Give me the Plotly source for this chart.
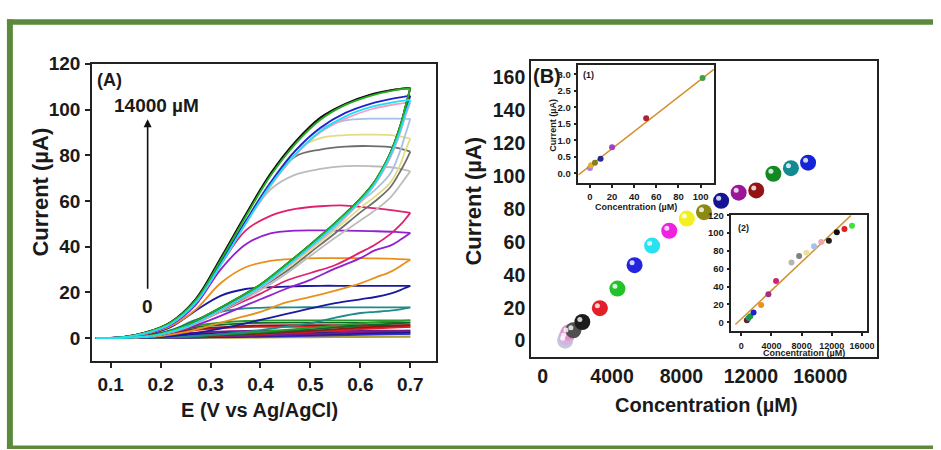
import plotly.graph_objects as go

W, H = 941, 450
def px(x): return x / W
def py(y): return 1 - y / H

# ---------------- Panel A : cyclic voltammograms ----------------
E_up = [0.07, 0.12, 0.17, 0.22, 0.27, 0.32, 0.37, 0.42, 0.47, 0.52, 0.57, 0.62, 0.67, 0.70]
E_dn = [0.70, 0.69, 0.68, 0.66, 0.63, 0.60, 0.55, 0.50, 0.45, 0.40, 0.35, 0.30, 0.25, 0.20, 0.15, 0.07]
E_sm_up = [0.07, 0.17, 0.27, 0.37, 0.50, 0.70]
E_sm_dn = [0.70, 0.60, 0.50, 0.40, 0.30, 0.20, 0.07]

I_black_up = [0, 0.3, 2.5, 7, 17, 35, 54, 72, 86, 96.5, 102.5, 106.5, 108.8, 109.5]
I_black_dn = [109.5, 101, 93, 81, 69, 61, 50.5, 41, 32, 23.5, 17, 11, 5.5, 2, 0.5, 0]
I_red_up = [0, 0.3, 2.5, 7, 17, 34.5, 53.5, 71.5, 85.5, 96, 102.3, 106.3, 108.7, 109.3]
I_red_dn = [109.3, 100.8, 92.8, 80.8, 68.8, 60.8, 50.3, 40.8, 31.8, 23.3, 16.8, 10.8, 5.4, 2, 0.5, 0]
I_green_up = [0, 0.3, 2.4, 6.8, 16.5, 34, 53, 71, 85, 95.5, 102, 106, 108.5, 109.3]
I_green_dn = [109.3, 101, 93, 81, 69, 61, 50.5, 41, 32, 23.5, 17, 11, 5.5, 2, 0.5, 0]
I_blue_up = [0, 0.3, 2.3, 6.5, 16, 33, 51, 68, 82, 92, 98.5, 102.5, 105, 106]
I_blue_dn = [106, 99, 92, 80.5, 68.5, 60.5, 50, 40.5, 31.5, 23, 16.5, 10.5, 5, 1.8, 0.5, 0]
I_cyan_up = [0, 0.3, 2.2, 6.2, 15.5, 32, 50, 67, 80.5, 90.5, 97, 101, 103.3, 104.2]
I_cyan_dn = [104.2, 98, 91, 80, 68, 60, 49.5, 40, 31, 22.5, 16, 10, 4.8, 1.7, 0.4, 0]
I_pink_up = [0, 0.3, 2.2, 6.2, 15.5, 32, 50, 66.5, 80, 90, 96, 100, 102.3, 103]
I_pink_dn = [103, 97, 90, 79, 67.5, 59.5, 49, 39.5, 30.5, 22, 15.8, 9.8, 4.7, 1.6, 0.4, 0]

I_lblue_up = [0, 0.3, 2.3, 6.5, 16, 33, 51, 68, 82, 91.5, 95.3, 96, 96, 95.9]
I_lblue_dn = [95.9, 89, 82, 72, 65, 59.5, 48.5, 39.5, 31, 23, 16.5, 10.5, 5, 1.8, 0.4, 0]
I_yellow_up = [0, 0.3, 2.3, 6.5, 16, 33, 51, 68, 82, 87.5, 88.8, 89, 88.6, 87.3]
I_yellow_dn = [87.3, 82, 76, 68, 62, 57, 47.5, 38.5, 30, 22.5, 16, 10, 4.8, 1.7, 0.4, 0]
I_dgray_up = [0, 0.3, 2.3, 6.5, 16, 33, 51, 68, 79.5, 82.5, 83.8, 84, 83.3, 81.6]
I_dgray_dn = [81.6, 77, 73, 66, 60, 55, 46, 37.5, 29, 22, 15.5, 9.8, 4.6, 1.6, 0.4, 0]
I_lgray_up = [0, 0.3, 2.2, 6.3, 15.5, 32, 50, 65, 71.5, 74, 75.2, 75.2, 74.5, 73]
I_lgray_dn = [73, 70, 67, 61.5, 56, 51.5, 44, 36, 28, 21, 15, 9.5, 4.5, 1.5, 0.4, 0]

I_crimson_up = [0, 0.3, 2.2, 6.3, 15.5, 32, 47, 53.5, 56.5, 57.7, 58, 57, 55.8, 54.8]
I_crimson_dn = [54.8, 52, 49.5, 45.5, 41, 37.5, 32, 28.5, 25, 19.5, 14.5, 9.5, 4.5, 1.6, 0.4, 0]
I_purple_up = [0, 0.3, 2, 5.8, 14.5, 30, 41, 45.8, 47, 47.1, 47, 46.8, 46.5, 46]
I_purple_dn = [46, 44.5, 43, 40.5, 38.5, 35, 30.5, 25.5, 21.5, 17, 12.5, 8, 4, 1.4, 0.3, 0]
I_orange_up = [0, 0.3, 1.8, 5.2, 12.5, 24, 31, 33.8, 34.7, 35, 35, 34.9, 34.7, 34.3]
I_orange_dn = [34.3, 33, 31.5, 29, 26.5, 24, 20.8, 18, 15.5, 11.5, 8.5, 5.5, 2.6, 0.9, 0.2, 0]
I_navy_up = [0, 0.3, 1.5, 4.8, 12, 18.5, 21.5, 22.3, 22.7, 22.9, 22.9, 22.9, 22.9, 22.9]
I_navy_dn = [22.9, 22, 21, 19.5, 18, 17, 15.3, 13, 10.5, 8, 5.5, 3.4, 1.6, 0.5, 0.1, 0]
I_teal_up = [0, 0.2, 1.2, 3.5, 8, 11.5, 13, 13.4, 13.5, 13.5, 13.5, 13.5, 13.5, 13.5]
I_teal_dn = [13.5, 13, 12.6, 12, 11.5, 11, 9, 6.5, 5, 3.5, 2.3, 1.4, 0.6, 0.2, 0, 0]

I_sgreen_up = [0, 0.8, 5.5, 7.5, 7.8, 7.8]
I_sgreen_dn = [7.8, 6.5, 4.5, 2.8, 1.3, 0.3, 0]
I_sdgreen_up = [0, 0.7, 4.8, 6.5, 6.8, 6.8]
I_sdgreen_dn = [6.8, 5.5, 3.8, 2.3, 1.1, 0.3, 0]
I_sdred_up = [0, 0.6, 4, 5.4, 5.7, 5.7]
I_sdred_dn = [5.7, 4.6, 3.2, 2, 1, 0.3, 0]
I_sred_up = [0, 0.5, 3.5, 4.8, 5, 5]
I_sred_dn = [5, 4, 2.8, 1.8, 0.9, 0.2, 0]
I_spurple_up = [0, 0.4, 2.4, 3.2, 3.3, 3.3]
I_spurple_dn = [3.3, 2.6, 1.8, 1.1, 0.6, 0.1, 0]
I_snavy_up = [0, 0.3, 1.9, 2.5, 2.6, 2.6]
I_snavy_dn = [2.6, 2.1, 1.5, 0.9, 0.5, 0.1, 0]
I_sblue_up = [0, 0.2, 1.4, 1.8, 1.9, 1.9]
I_sblue_dn = [1.9, 1.5, 1, 0.6, 0.3, 0.1, 0]
I_solive_up = [0, 0.1, 0.5, 0.7, 0.7, 0.7]
I_solive_dn = [0.7, 0.5, 0.4, 0.2, 0.1, 0, 0]

# ---------------- Panel B : calibration ----------------
conc_main = [1297, 1350, 1486, 1771, 2286, 3297, 4309, 5297, 6309, 7297, 8309, 9297,
             10286, 11297, 12309, 13297, 14309, 15297]
cur_main = [0, 2, 4.9, 6.3, 11.3, 19.7, 31.6, 45.8, 57.7, 66.7, 74.1, 78, 84.9, 89.8,
            91.2, 101.3, 104.7, 108]
col_main = ['#c4cad8', '#d2b4e2', '#e493c8', '#505050', '#1c1c1c', '#e3202a', '#22c22a',
            '#2424e0', '#28e2f2', '#ee22e0', '#f2f020', '#8a8a14', '#141494', '#9a169a',
            '#921414', '#128a24', '#128a92', '#1424d4']

conc_in1 = [0, 1, 4.5, 9.6, 20, 50.8, 101.8]
cur_in1 = [0.16, 0.24, 0.32, 0.44, 0.79, 1.67, 2.89]
col_in1 = ['#b07ee0', '#e8b020', '#8a7a20', '#2a2a8a', '#a040c0', '#b02030', '#40a040']
fit1_x = [-10.5, 112]
fit1_y = [-0.05, 3.15]

conc_in2 = [737, 960, 1184, 1618, 2632, 3592, 4605, 6658, 7671, 8632, 9645, 10605,
            11618, 12671, 13684, 14684]
cur_in2 = [2.2, 4.7, 6.6, 11, 19.3, 31.4, 46.2, 67, 74.3, 78, 85.3, 90, 91.5, 101,
           104.7, 108.3]
col_in2 = ['#6a1a1a', '#1a8a8a', '#1a9a3a', '#2020d0', '#e8901c', '#a03080', '#d0207a',
           '#b4b4b4', '#808080', '#e8e0a0', '#a4c2f0', '#f0a4b4', '#202020', '#101010',
           '#e02020', '#40e040']
fit2_x = [-789, 14553]
fit2_y = [-2.6, 120]

# ---------------- figure ----------------
fig = go.Figure()
FONT = 'Liberation Sans'

cv_curves = [
    ('#b0a030', E_sm_up, I_solive_up, E_sm_dn, I_solive_dn),
    ('#3030d0', E_sm_up, I_sblue_up, E_sm_dn, I_sblue_dn),
    ('#1a1a8a', E_sm_up, I_snavy_up, E_sm_dn, I_snavy_dn),
    ('#7a1a8a', E_sm_up, I_spurple_up, E_sm_dn, I_spurple_dn),
    ('#e02020', E_sm_up, I_sred_up, E_sm_dn, I_sred_dn),
    ('#8a1a1a', E_sm_up, I_sdred_up, E_sm_dn, I_sdred_dn),
    ('#0f6a2a', E_sm_up, I_sdgreen_up, E_sm_dn, I_sdgreen_dn),
    ('#2a9a2a', E_sm_up, I_sgreen_up, E_sm_dn, I_sgreen_dn),
    ('#1f8a8a', E_up, I_teal_up, E_dn, I_teal_dn),
    ('#1a1aa0', E_up, I_navy_up, E_dn, I_navy_dn),
    ('#e8901c', E_up, I_orange_up, E_dn, I_orange_dn),
    ('#9020d0', E_up, I_purple_up, E_dn, I_purple_dn),
    ('#e0206e', E_up, I_crimson_up, E_dn, I_crimson_dn),
    ('#bcbcbc', E_up, I_lgray_up, E_dn, I_lgray_dn),
    ('#6e6e6e', E_up, I_dgray_up, E_dn, I_dgray_dn),
    ('#e4dc84', E_up, I_yellow_up, E_dn, I_yellow_dn),
    ('#a8c0e4', E_up, I_lblue_up, E_dn, I_lblue_dn),
    ('#f0a0c8', E_up, I_pink_up, E_dn, I_pink_dn),
    ('#2020d0', E_up, I_blue_up, E_dn, I_blue_dn),
    ('#e02020', E_up, I_red_up, E_dn, I_red_dn),
    ('#101010', E_up, I_black_up, E_dn, I_black_dn),
    ('#20b020', E_up, I_green_up, E_dn, I_green_dn),
    ('#20e0f0', E_up, I_cyan_up, E_dn, I_cyan_dn),
]
for col, xu, yu, xd, yd in cv_curves:
    for xx, yy in ((xu, yu), (xd, yd)):
        fig.add_trace(go.Scatter(x=xx, y=yy, mode='lines', line=dict(color=col, width=1.8, shape='spline', smoothing=1.0),
                                 xaxis='x', yaxis='y', showlegend=False, hoverinfo='skip'))

# Panel B main spheres
fig.add_trace(go.Scatter(x=conc_main, y=cur_main, mode='markers', xaxis='x2', yaxis='y2', showlegend=False,
                         marker=dict(size=16, color=col_main, line=dict(width=0))))

# Inset 1
fig.add_trace(go.Scatter(x=fit1_x, y=fit1_y, mode='lines', xaxis='x3', yaxis='y3', showlegend=False,
                         line=dict(color='#d4902e', width=1.5)))
fig.add_trace(go.Scatter(x=conc_in1, y=cur_in1, mode='markers', xaxis='x3', yaxis='y3', showlegend=False,
                         marker=dict(size=6, color=col_in1)))
# Inset 2
fig.add_trace(go.Scatter(x=fit2_x, y=fit2_y, mode='lines', xaxis='x4', yaxis='y4', showlegend=False,
                         line=dict(color='#d4902e', width=1.5)))
fig.add_trace(go.Scatter(x=conc_in2, y=cur_in2, mode='markers', xaxis='x4', yaxis='y4', showlegend=False,
                         marker=dict(size=6, color=col_in2)))

# sphere highlights (drawn on an invisible overlay axis shifted up-left by a few pixels)
fig.add_trace(go.Scatter(x=conc_main, y=cur_main, mode='markers', xaxis='x5', yaxis='y5', showlegend=False,
                         hoverinfo='skip', marker=dict(size=5, color='rgba(255,255,255,0.8)', line=dict(width=0))))

def ax(domain, rng, tickvals, size, anchor, lw=2, ticklen=5, standoff=3, fmt=None, ticks='outside'):
    d = dict(domain=domain, range=rng, tickvals=tickvals, showgrid=False, zeroline=False,
             showline=True, mirror=True, linecolor='#222', linewidth=lw, ticks=ticks,
             ticklen=ticklen, tickwidth=1.5, tickcolor='#222', anchor=anchor,
             exponentformat='none', tickangle=0,
             tickfont=dict(family=FONT, size=size, color='#1a1a1a', weight='bold'),
             ticklabelstandoff=standoff)
    if fmt:
        d['tickformat'] = fmt
    return d

fig.update_layout(
    width=W, height=H, autosize=False, margin=dict(l=0, r=0, t=0, b=0),
    paper_bgcolor='white', plot_bgcolor='rgba(0,0,0,0)',
    xaxis=ax([px(93), px(440)], [0.063, 0.752], [0.1, 0.2, 0.3, 0.4, 0.5, 0.6, 0.7], 19, 'y', standoff=0),
    yaxis=ax([py(359), py(55)], [-10, 120], [0, 20, 40, 60, 80, 100, 120], 19, 'x', standoff=1),
    xaxis2=ax([px(535.7), px(885)], [-663, 19297], [0, 4000, 8000, 12000, 16000], 19.5, 'y2', ticks='', standoff=0, fmt='d'),
    yaxis2=ax([py(355), py(51.7)], [-10, 170], list(range(0, 161, 20)), 19.5, 'x2', ticks='', standoff=0, fmt='d'),
    xaxis3=ax([px(583.3), px(720)], [-10.5, 112], [0, 20, 40, 60, 80, 100], 9.5, 'y3', lw=1.5, ticklen=3, standoff=1),
    yaxis3=ax([py(176.7), py(56)], [-0.29, 3.29], [0, 0.5, 1, 1.5, 2, 2.5, 3], 9.5, 'x3', lw=1.5, ticklen=3, standoff=1, fmt='.1f'),
    xaxis4=ax([px(737.7), px(874.3)], [-1316, 16658], [0, 4000, 8000, 12000, 16000], 9, 'y4', lw=1.5, ticklen=3, standoff=2, fmt='d'),
    yaxis4=ax([py(328.3), py(210)], [-9.9, 120], [0, 20, 40, 60, 80, 100, 120], 9.5, 'x4', lw=1.5, ticklen=3, standoff=1),
    xaxis5=dict(domain=[px(535.7 - 2.5), px(885 - 2.5)], range=[-663, 19297], visible=False, anchor='y5'),
    yaxis5=dict(domain=[py(355 - 2.5), py(51.7 - 2.5)], range=[-10, 170], visible=False, anchor='x5'),
)

def txt(x, y, s, size, xanchor='center', yanchor='middle', angle=0):
    fig.add_annotation(x=px(x), y=py(y), xref='paper', yref='paper', text=s, showarrow=False,
                       xanchor=xanchor, yanchor=yanchor, textangle=angle,
                       font=dict(family=FONT, size=size, color='#1a1a1a', weight='bold'))

# axis titles
txt(262, 409, 'E (V vs Ag/AgCl)', 20)
txt(41, 186, 'Current (µA)', 22, angle=-90)
txt(713, 404, 'Concentration (µM)', 20)
txt(478, 195, 'Current (µA)', 22, angle=-90)
txt(641, 201, 'Concentration (µM)', 9)
txt(558, 118, 'Current (µA)', 9, angle=-90)
txt(811, 350.5, 'Concentration (µM)', 9)

# panel labels
txt(96, 72, '(A)', 18, xanchor='left')
txt(158, 98, '14000 µM', 19)
txt(149, 303, '0', 19)
txt(536, 67, '(B)', 20, xanchor='left')
txt(586, 66, '(1)', 9, xanchor='left')
txt(742, 223, '(2)', 9, xanchor='left')

# arrow in panel A
fig.add_annotation(x=0.174, y=95.7, ax=0.174, ay=20.9, xref='x', yref='y', axref='x', ayref='y',
                   showarrow=True, arrowhead=2, arrowsize=1, arrowwidth=1.6, arrowcolor='#111', text='')

# green frame
GREEN = '#5b8a3c'
for x0, y0, x1, y1 in [(7, 9.5, 941, 15), (7, 9.5, 13, 449), (7, 445.5, 941, 449)]:
    fig.add_shape(type='rect', xref='paper', yref='paper', x0=px(x0), x1=px(x1), y0=py(y1), y1=py(y0),
                  fillcolor=GREEN, line=dict(width=0), layer='above')

fig.write_html('out.html', config={'responsive': False, 'displayModeBar': False})
